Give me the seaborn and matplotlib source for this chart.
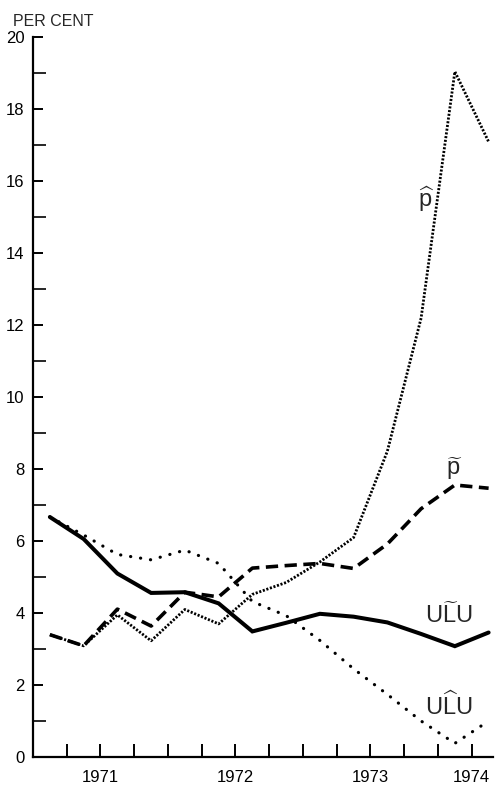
import matplotlib
matplotlib.use("Agg")
import matplotlib.pyplot as plt
import seaborn as sns
import pandas as pd

# ---------------- data ----------------
quarter_pos = [0.5, 1.5, 2.5, 3.5, 4.5, 5.5, 6.5, 7.5, 8.5, 9.5, 10.5, 11.5, 12.5, 13.5]
ulu_tilde = [6.67, 6.06, 5.10, 4.56, 4.58, 4.27, 3.49, 3.73, 3.98, 3.90, 3.74, 3.42, 3.08, 3.46]
ulu_hat = [6.67, 6.17, 5.63, 5.48, 5.75, 5.38, 4.32, 3.93, 3.24, 2.45, 1.74, 1.00, 0.38, 1.00]
p_tilde = [3.40, 3.09, 4.11, 3.64, 4.58, 4.45, 5.25, 5.32, 5.38, 5.24, 5.92, 6.90, 7.56, 7.47]
p_hat = [3.40, 3.09, 3.95, 3.23, 4.10, 3.70, 4.52, 4.85, 5.42, 6.10, 8.50, 12.20, 19.05, 17.10]

x_ticks = list(range(1, 14))
year_labels = {2: "1971", 6: "1972", 10: "1973", 13: "1974"}
y_major = list(range(0, 21, 2))
y_minor = list(range(1, 20, 2))

# ---------------- style ----------------
sns.set_style("ticks")
plt.rcParams["font.family"] = ["Liberation Sans", "DejaVu Sans"]
plt.rcParams["mathtext.fontset"] = "custom"
plt.rcParams["mathtext.rm"] = "Liberation Sans"
plt.rcParams["mathtext.it"] = "Liberation Sans:italic"
plt.rcParams["mathtext.bf"] = "Liberation Sans:bold"

W, H = 495, 794
fig = plt.figure(figsize=(W / 100, H / 100), dpi=100)
ax = fig.add_axes([33 / W, 37 / H, (493 - 33) / W, (757 - 37.4) / H])

df = pd.DataFrame({"x": quarter_pos, "ulu_t": ulu_tilde, "ulu_h": ulu_hat,
                   "p_t": p_tilde, "p_h": p_hat})

sns.lineplot(data=df, x="x", y="ulu_t", ax=ax, color="black", lw=2.9,
             solid_joinstyle="miter")
sns.lineplot(data=df, x="x", y="p_t", ax=ax, color="black", lw=2.6,
             linestyle=(0, (3.4, 1.8)), dash_capstyle="butt")
sns.lineplot(data=df, x="x", y="ulu_h", ax=ax, color="black", lw=2.3,
             linestyle=(0, (0.05, 3.1)), dash_capstyle="round")
sns.lineplot(data=df, x="x", y="p_h", ax=ax, color="black", lw=2.0,
             linestyle=(0, (0.75, 0.6)), dash_capstyle="butt")

ax.set_xlim(0, 13.63)
ax.set_ylim(0, 20)
ax.set_xlabel("")
ax.set_ylabel("")

ax.set_xticks(x_ticks)
ax.set_xticklabels([year_labels.get(t, "") for t in x_ticks])
ax.set_yticks(y_major)
ax.set_yticklabels([str(v) for v in y_major])
ax.set_yticks(y_minor, minor=True)

ax.tick_params(axis="x", direction="in", length=9.5, width=1.4, pad=9,
               labelsize=12, colors="black")
ax.tick_params(axis="y", which="major", direction="in", length=7, width=1.4,
               pad=6, labelsize=12, colors="black")
ax.tick_params(axis="y", which="minor", direction="in", length=9, width=1.4)

for s in ["top", "right"]:
    ax.spines[s].set_visible(False)
for s in ["left", "bottom"]:
    ax.spines[s].set_linewidth(1.6)
    ax.spines[s].set_color("black")
ax.grid(False)

fig.text(13 / W, 1 - 26 / H, "PER CENT", fontsize=11.5, ha="left", va="baseline")

# series labels with accents (single mathtext objects)
lab_fs = 17
ax.text(11.64, 15.29, r"$\widehat{\mathrm{p}}$", fontsize=lab_fs, ha="center", va="baseline")
ax.text(12.47, 7.84, r"$\widetilde{\mathrm{p}}$", fontsize=lab_fs, ha="center", va="baseline")
ax.text(12.33, 3.72, r"$\mathrm{U}\widetilde{\mathrm{L}}\mathrm{U}$", fontsize=lab_fs,
        ha="center", va="baseline")
ax.text(12.33, 1.17, r"$\mathrm{U}\widehat{\mathrm{L}}\mathrm{U}$", fontsize=lab_fs,
        ha="center", va="baseline")

fig.savefig("out.png", dpi=100, facecolor="white")
